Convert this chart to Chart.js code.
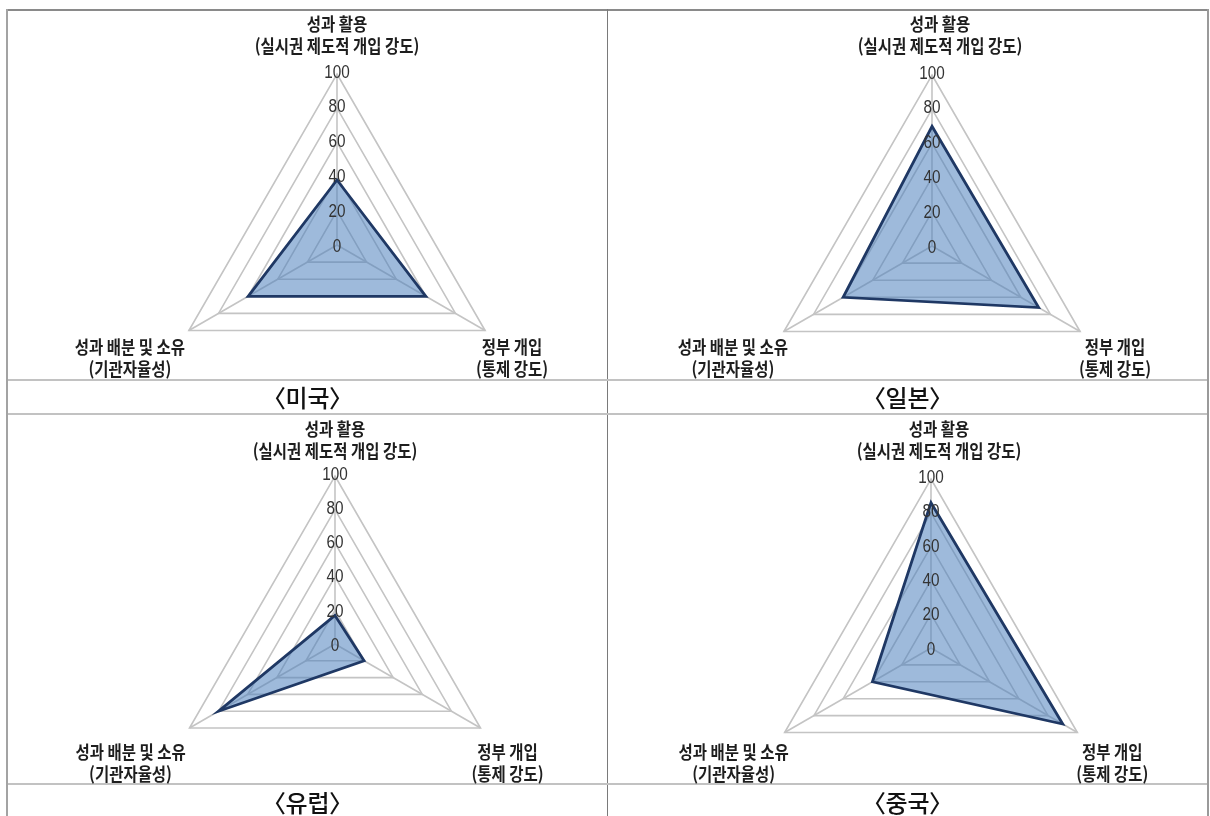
<!DOCTYPE html>
<html lang="ko">
<head>
<meta charset="utf-8">
<title>성과 활용·정부 개입·성과 배분 비교</title>
<script src="https://cdn.jsdelivr.net/npm/chart.js@4/dist/chart.umd.min.js"></script>
<style>
  html, body { margin: 0; padding: 0; background: #fff; }
  body { width: 1210px; height: 816px; position: relative; overflow: hidden;
         font-family: "Noto Sans CJK KR", "Noto Sans", sans-serif; }
  .rule { position: absolute; }
  canvas { position: absolute; }
  .cap { position: absolute; height: 34px; line-height: 34px; text-align: center;
         font-size: 24px; font-weight: 500; color: #111;
         font-feature-settings: "palt"; }
</style>
</head>
<body>
<!-- table frame -->
<div class="rule" style="left:6px;top:9px;width:1203px;height:2px;background:#8a8a8a"></div>
<div class="rule" style="left:6px;top:9px;width:2px;height:807px;background:#a3a3a3"></div>
<div class="rule" style="left:1207px;top:9px;width:2px;height:807px;background:#9a9a9a"></div>
<div class="rule" style="left:607px;top:9px;width:1px;height:807px;background:#7a7a7a"></div>
<div class="rule" style="left:8px;top:379px;width:1199px;height:2px;background:#c2c2c2"></div>
<div class="rule" style="left:8px;top:413px;width:1199px;height:2px;background:#c2c2c2"></div>
<div class="rule" style="left:8px;top:783px;width:1199px;height:2px;background:#c2c2c2"></div>

<canvas id="c0"></canvas>
<canvas id="c1"></canvas>
<canvas id="c2"></canvas>
<canvas id="c3"></canvas>

<div class="cap" id="cap0" style="left:8px;top:380px;width:599px"></div>
<div class="cap" id="cap1" style="left:608px;top:380px;width:599px"></div>
<div class="cap" id="cap2" style="left:8px;top:785px;width:599px"></div>
<div class="cap" id="cap3" style="left:608px;top:785px;width:599px"></div>

<script>
// axis titles (two lines each), in the radar's clockwise order starting at the top
const axisLabels = [
  ['성과 활용', '(실시권 제도적 개입 강도)'],
  ['정부 개입', '(통제 강도)'],
  ['성과 배분 및 소유', '(기관자율성)']
];
const tickValues = [0, 20, 40, 60, 80, 100];
const regionNames = ['미국', '일본', '유럽', '중국'];

// scores per region: [성과 활용, 정부 개입, 성과 배분 및 소유]
const usValues     = [38, 60, 60];
const japanValues  = [70, 72, 60];
const europeValues = [17, 20, 80];
const chinaValues  = [86, 90, 40];

const seriesByRegion = [usValues, japanValues, europeValues, chinaValues];

// panel geometry: canvas origin, radar centre and radius (page pixels)
const panels = [
  { left: 8,   top: 10,  cx: 337, cy: 245, r: 171, shift: 0 },
  { left: 609, top: 10,  cx: 932, cy: 246, r: 171, shift: 8 },
  { left: 8,   top: 415, cx: 335, cy: 644, r: 168, shift: 0 },
  { left: 609, top: 415, cx: 931, cy: 648, r: 169, shift: 8 }
];
const CANVAS_W = 598, CANVAS_H = 420;

// horizontal offsets of each axis title from its vertex, vertical line centres in canvas space
const titleDx = [0, 27, -59];
const titleY = [[14, 36], [337, 359], [337, 359]];

function drawNarrow(ctx, text, x, y, font, sx) {
  ctx.save();
  ctx.translate(x, y);
  ctx.scale(sx, 1);
  ctx.font = font;
  ctx.fillText(text, 0, 0);
  ctx.restore();
}

const axisText = {
  id: 'axisText',
  afterDraw(chart, args, opts) {
    const scale = chart.scales.r;
    const ctx = chart.ctx;
    ctx.save();
    ctx.textAlign = 'center';
    ctx.textBaseline = 'middle';

    // value ticks along the upper axis
    ctx.fillStyle = '#333333';
    tickValues.forEach(v => {
      const d = scale.getDistanceFromCenterForValue(v);
      drawNarrow(ctx, String(v), scale.xCenter, scale.yCenter - d * 1.02 + 2,
                 '18px "Liberation Sans", Arial, sans-serif', 0.85);
    });

    // axis titles
    ctx.fillStyle = '#1e1e1e';
    axisLabels.forEach((lines, i) => {
      const p = scale.getPointPosition(i, scale.drawingArea);
      lines.forEach((t, k) => {
        drawNarrow(ctx, t, p.x + titleDx[i] + opts.shift, titleY[i][k],
                   'bold 18px "Noto Sans CJK KR", sans-serif', 0.86);
      });
    });
    ctx.restore();
  }
};

panels.forEach((pn, idx) => {
  const canvas = document.getElementById('c' + idx);
  canvas.width = CANVAS_W;
  canvas.height = CANVAS_H;
  canvas.style.left = pn.left + 'px';
  canvas.style.top = pn.top + 'px';
  canvas.style.width = CANVAS_W + 'px';
  canvas.style.height = CANVAS_H + 'px';

  const padLeft = pn.cx - pn.left - pn.r;
  const padTop = pn.cy - pn.top - pn.r;

  document.getElementById('cap' + idx).textContent = '〈' + regionNames[idx] + '〉';

  new Chart(canvas, {
    type: 'radar',
    data: {
      labels: axisLabels,
      datasets: [{
        label: regionNames[idx],
        data: seriesByRegion[idx],
        fill: true,
        backgroundColor: 'rgba(79, 129, 189, 0.55)',
        borderColor: '#1f3864',
        borderWidth: 2.8,
        pointRadius: 0,
        pointHoverRadius: 0
      }]
    },
    options: {
      responsive: false,
      animation: false,
      layout: {
        padding: {
          left: padLeft,
          top: padTop,
          right: CANVAS_W - padLeft - 2 * pn.r,
          bottom: CANVAS_H - padTop - 2 * pn.r
        }
      },
      plugins: {
        legend: { display: false },
        tooltip: { enabled: false },
        axisText: { shift: pn.shift }
      },
      scales: {
        r: {
          min: tickValues[0],
          max: tickValues[tickValues.length - 1],
          ticks: { stepSize: tickValues[1] - tickValues[0], display: false },
          grid: { color: '#c4c4c4', lineWidth: 1.6 },
          angleLines: { color: '#c4c4c4', lineWidth: 1.6 },
          pointLabels: { display: false }
        }
      }
    },
    plugins: [axisText]
  });
});
</script>
</body>
</html>
